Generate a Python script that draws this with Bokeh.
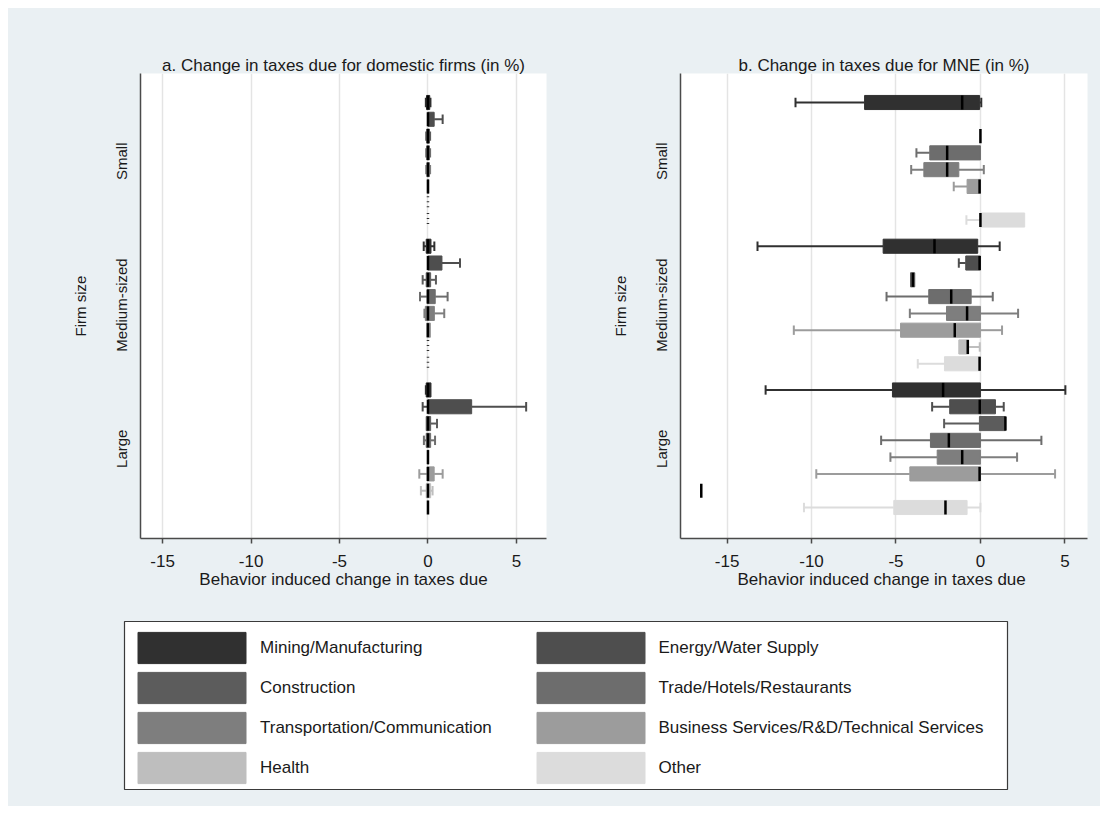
import math
from bokeh.plotting import figure
from bokeh.models import Range1d, FixedTicker, Legend, LegendItem, Spacer
from bokeh.layouts import column, row
from bokeh.embed import file_html
from bokeh.resources import INLINE

NaN = float("nan")

# ---------------- data ----------------
industries = ["Mining/Manufacturing", "Energy/Water Supply", "Construction",
              "Trade/Hotels/Restaurants", "Transportation/Communication",
              "Business Services/R&D/Technical Services", "Health", "Other"]
colors = ["#303030", "#4e4e4e", "#5c5c5c", "#6d6d6d", "#7e7e7e", "#9c9c9c", "#bebebe", "#dcdcdc"]
sizes = ["Small", "Medium-sized", "Large"]

# Panel a: domestic firms (order: Small x8, Medium-sized x8, Large x8)
dom_lw = [-0.12, 0.00, -0.10, -0.10, -0.10, -0.03, 0.0, 0.0,
          -0.24, 0.00, -0.30, -0.45, -0.20, -0.07, 0.0, 0.0,
          -0.12, -0.30, -0.10, -0.23, -0.02, -0.49, -0.40, 0.0]
dom_q1 = [-0.08, 0.00, -0.07, -0.07, -0.06, -0.03, 0.0, 0.0,
          -0.10, 0.00, -0.10, -0.05, -0.15, -0.07, 0.0, 0.0,
          -0.10, 0.00, -0.10, -0.10, -0.02, -0.05, -0.10, 0.0]
dom_med = [0.0, 0.0, 0.0, 0.0, 0.0, 0.0, NaN, NaN,
           0.0, 0.0, 0.0, 0.0, 0.0, 0.0, NaN, NaN,
           0.0, 0.0, 0.0, 0.0, 0.0, 0.0, 0.0, 0.0]
dom_q3 = [0.10, 0.35, 0.08, 0.08, 0.08, 0.04, 0.0, 0.0,
          0.17, 0.79, 0.15, 0.41, 0.36, 0.14, 0.0, 0.0,
          0.17, 2.47, 0.15, 0.15, 0.03, 0.35, 0.15, 0.0]
dom_uw = [0.14, 0.83, 0.12, 0.12, 0.12, 0.04, 0.0, 0.0,
          0.36, 1.81, 0.45, 1.11, 0.92, 0.14, 0.0, 0.0,
          0.17, 5.55, 0.51, 0.40, 0.03, 0.83, 0.26, 0.0]

# Panel b: MNE
mne_lw = [-10.95, NaN, 0.00, -3.79, -4.10, -1.58, NaN, -0.83,
          -13.20, -1.28, -4.14, -5.56, -4.18, -11.05, -1.28, -3.71,
          -12.72, -2.86, -2.15, -5.88, -5.33, -9.72, -16.53, -10.45]
mne_q1 = [-6.86, NaN, 0.00, -3.00, -3.35, -0.79, NaN, 0.00,
          -5.76, -0.87, -4.14, -3.06, -2.01, -4.73, -1.28, -2.13,
          -5.21, -1.82, -0.06, -2.96, -2.56, -4.18, -16.53, -5.13]
mne_med = [-1.08, NaN, 0.00, -1.97, -1.97, -0.05, NaN, 0.00,
           -2.72, -0.05, -4.00, -1.73, -0.79, -1.52, -0.75, -0.05,
           -2.21, -0.04, 1.48, -1.87, -1.08, -0.05, -16.53, -2.07]
mne_q3 = [-0.05, NaN, 0.00, 0.00, -1.28, 0.00, NaN, 2.62,
          -0.16, 0.00, -3.89, -0.55, 0.00, 0.00, -0.69, 0.00,
          0.00, 0.89, 1.48, 0.00, 0.00, 0.00, -16.53, -0.79]
mne_uw = [0.05, NaN, 0.00, 0.00, 0.20, 0.00, NaN, 2.62,
          1.14, 0.00, -3.89, 0.73, 2.23, 1.28, -0.04, 0.00,
          5.03, 1.38, 1.48, 3.61, 2.17, 4.42, -16.53, 0.00]

xticks = [-15, -10, -5, 0, 5]
xtick_labels = ["-15", "-10", "-5", "0", "5"]

BG = "#eaf0f3"
FONT = "Liberation Sans"
TXT = "#1a1a1a"
GAP = 0.56
nind = len(industries)
ypos = [g * (nind + GAP) + k for g in range(len(sizes)) for k in range(nind)]
group_ticks = [g * (nind + GAP) + (nind - 1) / 2 for g in range(len(sizes))]


def finite(v):
    return v is not None and not math.isnan(v)


def make_panel(title, xlabel, lw, q1, med, q3, uw, xr, width, bl, br):
    p = figure(width=width, height=592, x_range=Range1d(*xr),
               y_range=Range1d(25.966, -1.727),
               output_backend="svg", toolbar_location=None,
               min_border_left=bl, min_border_right=br,
               min_border_top=65, min_border_bottom=62,
               background_fill_color="white", border_fill_color=BG,
               outline_line_color=None)
    p.title.text = title
    p.title.align = "center"
    p.title.text_font = FONT
    p.title.text_font_size = "17px"
    p.title.text_font_style = "normal"
    p.title.text_color = TXT
    p.title.standoff = -2

    p.xaxis.ticker = FixedTicker(ticks=xticks)
    p.xaxis.major_label_overrides = {t: s for t, s in zip(xticks, xtick_labels)}
    p.xgrid.ticker = FixedTicker(ticks=xticks)
    p.xgrid.grid_line_color = "#e4e4e4"
    p.xgrid.grid_line_width = 1.5
    p.ygrid.visible = False

    p.xaxis.axis_label = xlabel
    p.xaxis.axis_label_text_font = FONT
    p.xaxis.axis_label_text_font_size = "17px"
    p.xaxis.axis_label_text_font_style = "normal"
    p.xaxis.axis_label_text_color = TXT
    p.xaxis.axis_label_standoff = 0
    p.xaxis.major_label_text_font = FONT
    p.xaxis.major_label_text_font_size = "17px"
    p.xaxis.major_label_text_color = TXT
    p.xaxis.major_label_standoff = 11
    p.xaxis.major_tick_out = 5
    p.xaxis.major_tick_in = 0
    p.xaxis.minor_tick_out = 0
    p.xaxis.minor_tick_in = 0

    p.yaxis.ticker = FixedTicker(ticks=group_ticks)
    p.yaxis.major_label_overrides = {t: s for t, s in zip(group_ticks, sizes)}
    p.yaxis.major_label_orientation = "vertical"
    p.yaxis.major_label_text_font = FONT
    p.yaxis.major_label_text_font_size = "15px"
    p.yaxis.major_label_text_color = TXT
    p.yaxis.major_label_standoff = 10
    p.yaxis.major_tick_out = 0
    p.yaxis.major_tick_in = 0
    p.yaxis.minor_tick_out = 0
    p.yaxis.minor_tick_in = 0
    p.yaxis.axis_label = "Firm size"
    p.yaxis.axis_label_text_font = FONT
    p.yaxis.axis_label_text_font_size = "15px"
    p.yaxis.axis_label_text_font_style = "normal"
    p.yaxis.axis_label_text_color = TXT
    p.yaxis.axis_label_standoff = 22

    for ax in (p.xaxis, p.yaxis):
        ax.axis_line_color = "#4a4a4a"
        ax.axis_line_width = 1.5
        ax.major_tick_line_color = "#4a4a4a"
        ax.major_tick_line_width = 1.5

    box = dict(y=[], left=[], right=[], c=[])
    wh = dict(x0=[], x1=[], y=[], c=[])
    cap = dict(x=[], y0=[], y1=[], c=[])
    md = dict(x=[], y0=[], y1=[])
    dots = dict(x=[], y0=[], y1=[])
    for i, y in enumerate(ypos):
        c = colors[i % nind]
        if not finite(q1[i]):
            continue
        if q3[i] > q1[i]:
            box["y"].append(y); box["left"].append(q1[i]); box["right"].append(q3[i]); box["c"].append(c)
        if lw[i] < q1[i]:
            wh["x0"].append(lw[i]); wh["x1"].append(q1[i]); wh["y"].append(y); wh["c"].append(c)
            cap["x"].append(lw[i]); cap["y0"].append(y - 0.28); cap["y1"].append(y + 0.28); cap["c"].append(c)
        if uw[i] > q3[i]:
            wh["x0"].append(q3[i]); wh["x1"].append(uw[i]); wh["y"].append(y); wh["c"].append(c)
            cap["x"].append(uw[i]); cap["y0"].append(y - 0.28); cap["y1"].append(y + 0.28); cap["c"].append(c)
        if finite(med[i]):
            md["x"].append(med[i]); md["y0"].append(y - 0.42); md["y1"].append(y + 0.42)
        else:
            dots["x"].append(q1[i]); dots["y0"].append(y - 0.42); dots["y1"].append(y + 0.42)

    p.segment(x0="x0", x1="x1", y0="y", y1="y", line_color="c", line_width=2, source=wh)
    p.segment(x0="x", x1="x", y0="y0", y1="y1", line_color="c", line_width=2, source=cap)
    p.hbar(y="y", left="left", right="right", height=0.84, fill_color="c",
           line_color="c", line_width=1, source=box)
    p.segment(x0="x", x1="x", y0="y0", y1="y1", line_color="black", line_width=2.5, source=md)
    p.segment(x0="x", x1="x", y0="y0", y1="y1", line_color="#333333", line_width=2.5,
              line_dash="1 4", source=dots)
    return p


pa = make_panel("a. Change in taxes due for domestic firms (in %)",
                "Behavior induced change in taxes due",
                dom_lw, dom_q1, dom_med, dom_q3, dom_uw,
                (-16.25, 6.70), 552, 132, 14)
pb = make_panel("b. Change in taxes due for MNE (in %)",
                "Behavior  induced change in taxes due",
                mne_lw, mne_q1, mne_med, mne_q3, mne_uw,
                (-17.76, 6.34), 540, 120, 13)

# ---------------- legend ----------------
lg = figure(width=1092, height=206, x_range=Range1d(0, 1), y_range=Range1d(0, 1),
            output_backend="svg", toolbar_location=None,
            x_axis_location=None, y_axis_location=None,
            min_border_left=116, min_border_right=93,
            min_border_top=21, min_border_bottom=17,
            background_fill_color="white", border_fill_color=BG,
            outline_line_color="#3a3a3a", outline_line_width=1.2)
lg.grid.visible = False
# swatch renderers: placed outside the visible range, used only for legend glyphs
rs = [lg.quad(left=[5], right=[6], top=[6], bottom=[5], fill_color=c, line_color=c) for c in colors]


def mk_legend(idx, x):
    leg = Legend(items=[LegendItem(label=industries[i], renderers=[rs[i]]) for i in idx],
                 location=(x, 1.6), orientation="vertical",
                 glyph_width=135, glyph_height=39, label_height=39, spacing=1,
                 padding=0, margin=0, label_standoff=1,
                 label_text_font=FONT, label_text_font_size="17px", label_text_color=TXT,
                 border_line_color=None, background_fill_alpha=0)
    lg.add_layout(leg)


mk_legend([0, 2, 4, 6], 0)
mk_legend([1, 3, 5, 7], 398.5)

inner = column(row(pa, pb, spacing=0, styles={"background-color": BG}), lg,
               spacing=0, styles={"background-color": BG})
layout = column(Spacer(height=8, width=1100), row(Spacer(width=8, height=798), inner))
open("out.html", "w").write(file_html(layout, INLINE))
